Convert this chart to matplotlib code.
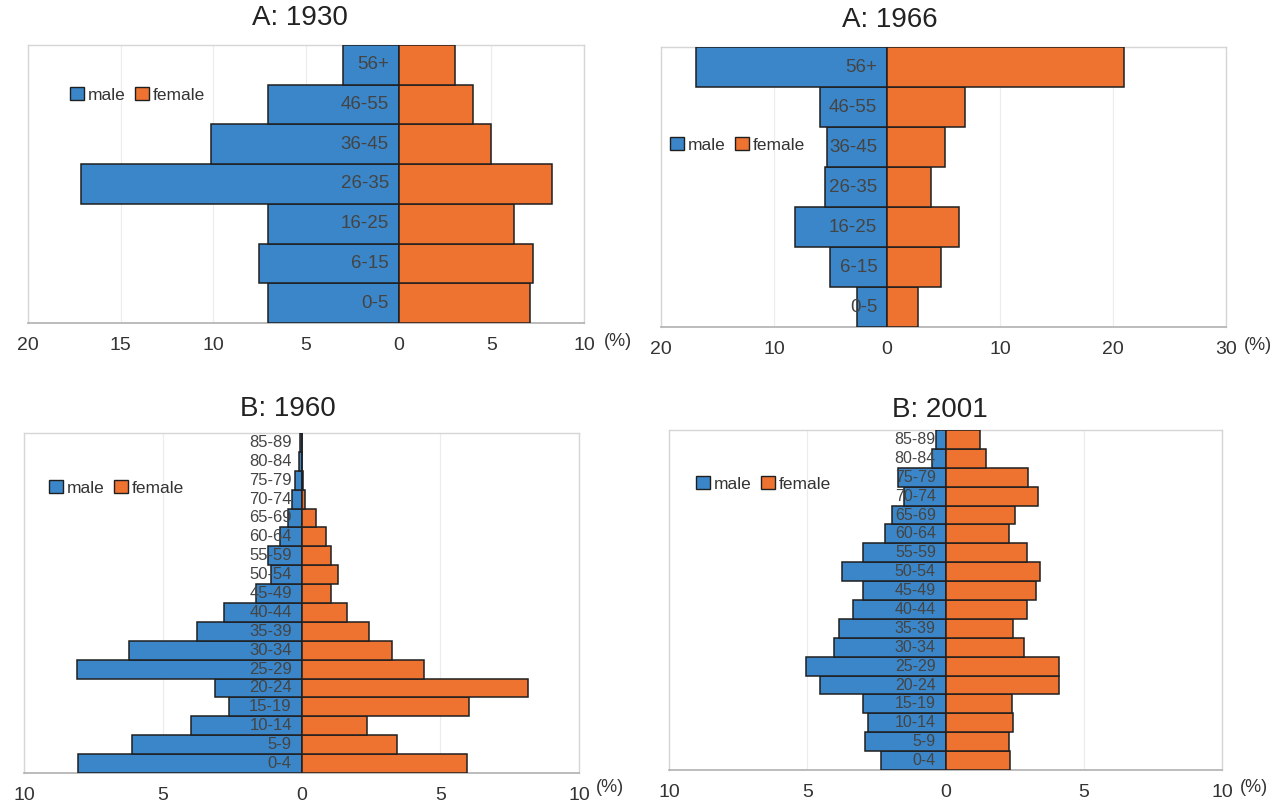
import matplotlib
matplotlib.use("Agg")
import matplotlib.pyplot as plt
from matplotlib.patches import Patch
from matplotlib.ticker import FuncFormatter
import numpy as np

plt.rcParams['font.family'] = ['Liberation Sans', 'DejaVu Sans']

W, H = 1273, 802

# ---- data ----
a_groups = ["0-5", "6-15", "16-25", "26-35", "36-45", "46-55", "56+"]
a1930_male = [7.05, 7.55, 7.05, 17.15, 10.1, 7.05, 3.0]
a1930_female = [7.1, 7.25, 6.2, 8.3, 5.0, 4.0, 3.05]
a1966_male = [2.65, 5.0, 8.1, 5.5, 5.3, 5.9, 16.9]
a1966_female = [2.7, 4.8, 6.4, 3.9, 5.1, 6.9, 21.0]

b_groups = ["0-4", "5-9", "10-14", "15-19", "20-24", "25-29", "30-34", "35-39",
            "40-44", "45-49", "50-54", "55-59", "60-64", "65-69", "70-74",
            "75-79", "80-84", "85-89"]
b1960_male = [8.05, 6.1, 4.0, 2.6, 3.1, 8.1, 6.2, 3.75, 2.78, 1.65, 1.1, 1.22,
              0.78, 0.5, 0.36, 0.22, 0.1, 0.05]
b1960_female = [5.95, 3.45, 2.35, 6.05, 8.15, 4.4, 3.27, 2.43, 1.64, 1.05, 1.3,
                1.06, 0.88, 0.52, 0.12, 0.07, 0.03, 0.02]
b2001_male = [2.35, 2.9, 2.8, 3.0, 4.55, 5.05, 4.05, 3.85, 3.35, 3.0, 3.75, 3.0,
              2.2, 1.95, 1.5, 1.7, 0.5, 0.36]
b2001_female = [2.35, 2.3, 2.45, 2.4, 4.1, 4.1, 2.85, 2.45, 2.95, 3.28, 3.42,
                2.95, 2.29, 2.5, 3.35, 2.98, 1.45, 1.24]

panels = [
    # title, groups, male, female, xlim, ticks, box(l,t,r,b), title xy, legend xy, pct xy, label fs
    ("A: 1930", a_groups, a1930_male, a1930_female, (-20, 10), [-20, -15, -10, -5, 0, 5, 10],
     (28, 45, 584, 323), (300, 18), (70, 95), (604, 341), 13.5),
    ("A: 1966", a_groups, a1966_male, a1966_female, (-20, 30), [-20, -10, 0, 10, 20, 30],
     (661, 47, 1226, 327), (890, 20), (670, 145), (1244, 345), 13.5),
    ("B: 1960", b_groups, b1960_male, b1960_female, (-10, 10), [-10, -5, 0, 5, 10],
     (24, 433, 579, 773), (288, 409), (49, 488), (596, 787), 12),
    ("B: 2001", b_groups, b2001_male, b2001_female, (-10, 10), [-10, -5, 0, 5, 10],
     (669, 430, 1222, 770), (940, 410), (696, 484), (1240, 787), 11.5),
]

male_color = "#3A86C8"
female_color = "#EE7230"
edge = "#1f1f1f"
text_col = "#444444"

fig = plt.figure(figsize=(W / 100, H / 100), dpi=100)
fig.patch.set_facecolor("white")

for (title, groups, male, female, xlim, ticks, box, txy, lxy, pxy, lfs) in panels:
    l, t, r, b = box
    ax = fig.add_axes([l / W, 1 - b / H, (r - l) / W, (b - t) / H])
    y = np.arange(len(groups))
    ax.barh(y, -np.array(male), height=1.0, color=male_color, edgecolor=edge,
            linewidth=1.1, zorder=3)
    ax.barh(y, np.array(female), height=1.0, color=female_color, edgecolor=edge,
            linewidth=1.1, zorder=3)
    ax.set_xlim(*xlim)
    ax.set_ylim(-0.5, len(groups) - 0.5)
    ax.set_xticks(ticks)
    ax.xaxis.set_major_formatter(FuncFormatter(lambda v, p: f"{abs(int(round(v)))}"))
    ax.set_yticks([])
    ax.tick_params(axis="x", length=0, pad=10, labelsize=14, labelcolor="#333333")
    ax.grid(axis="x", color="#ececec", linewidth=0.8, zorder=0)
    ax.set_axisbelow(True)
    for s in ["top", "left", "right"]:
        ax.spines[s].set_color("#d6d6d6")
        ax.spines[s].set_linewidth(1.0)
    ax.spines["bottom"].set_color("#b0b0b0")
    ax.spines["bottom"].set_linewidth(1.2)
    for yi, g in zip(y, groups):
        ax.annotate(g, xy=(0, yi), xytext=(-7, 0), textcoords="offset points",
                    ha="right", va="center", fontsize=lfs, color=text_col, zorder=5)
    fig.text(txy[0] / W, 1 - txy[1] / H, title, ha="center", va="center",
             fontsize=20, color="#222222")
    fig.text(pxy[0] / W, 1 - pxy[1] / H, "(%)", ha="left", va="center",
             fontsize=13, color="#333333")
    handles = [Patch(facecolor=male_color, edgecolor=edge, label="male"),
               Patch(facecolor=female_color, edgecolor=edge, label="female")]
    fig.legend(handles=handles, loc="center left",
               bbox_to_anchor=(lxy[0] / W, 1 - lxy[1] / H), bbox_transform=fig.transFigure,
               ncol=2, frameon=False, fontsize=12.5, handlelength=0.8, handleheight=0.8,
               handletextpad=0.25, columnspacing=0.5, borderpad=0, borderaxespad=0,
               labelcolor="#333333")

fig.savefig("out.png", dpi=100, facecolor="white")
